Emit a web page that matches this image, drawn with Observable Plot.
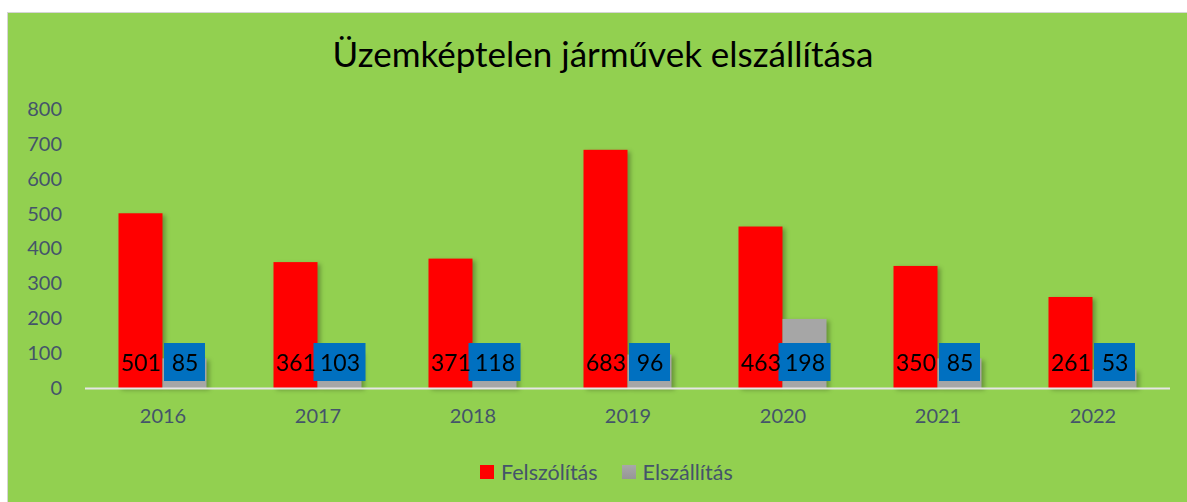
<!DOCTYPE html>
<html><head><meta charset="utf-8">
<script src="https://cdn.jsdelivr.net/npm/d3@7"></script>
<script src="https://cdn.jsdelivr.net/npm/@observablehq/plot@0.6"></script>
<style>
body{margin:0;background:#fff;width:1187px;height:502px;overflow:hidden;position:relative;font-family:Lato,sans-serif}
#panel{position:absolute;left:7px;top:12px;width:1180px;height:490px;background:#92D050;border-top:1px solid #d5d5d5;border-left:1px solid #d5d5d5;box-sizing:border-box}
#title{position:absolute;left:0;width:1206px;top:32px;text-align:center;font-size:35px;color:#000;white-space:nowrap}
#chart{position:absolute;left:0;top:0}
#legend{position:absolute;top:459px;left:480px;display:flex;align-items:center;font-size:21.5px;color:#44546A;white-space:nowrap}
.sw{display:inline-block;width:14px;height:14px;margin-right:7px}
g[aria-description="shadowbars"]{filter:drop-shadow(3px 2px 2px rgba(0,0,0,0.28))}
</style></head>
<body>
<div id="panel"></div>
<div id="title">Üzemképtelen járművek elszállítása</div>
<div id="chart"></div>
<div id="legend"><span class="sw" style="background:#FF0000"></span><span>Felszólítás</span><span class="sw" style="background:linear-gradient(#a8a8a8,#969696);margin-left:24px"></span><span>Elszállítás</span></div>
<script>
const years = ["2016","2017","2018","2019","2020","2021","2022"];
const series = ["Felszólítás","Elszállítás"];
const felszolitas = [501,361,371,683,463,350,261];
const elszallitas = [85,103,118,96,198,85,53];
const yTicks = [0,100,200,300,400,500,600,700,800];

const rows = [];
years.forEach((y,i)=>{
  rows.push({year:y, series:series[0], value:felszolitas[i]});
  rows.push({year:y, series:series[1], value:elszallitas[i]});
});
const gray = rows.filter(d=>d.series===series[1]);
const gray2 = gray.filter(d=>String(d.value).length<3);
const gray3 = gray.filter(d=>String(d.value).length>=3);
const LABEL_Y = 70, BOX_LO = 20, BOX_HI = 129;

const chart = Plot.plot({
  width:1187, height:440,
  marginTop:109, marginBottom:52, marginLeft:83.5, marginRight:16.4,
  style:{background:"transparent", fontFamily:"Lato, sans-serif", fontSize:"20px", color:"#44546A", overflow:"visible"},
  fx:{domain:years, padding:0, label:null, tickSize:0, tickPadding:20, axis:"bottom"},
  x:{domain:series, axis:null, paddingInner:0, paddingOuter:0.725},
  y:{domain:[0,800], ticks:yTicks, tickSize:0, tickPadding:23.5, label:null},
  color:{domain:series, range:["#FF0000","#A6A6A6"]},
  marks:[
    Plot.barY(rows,{fx:"year", x:"series", y:"value", fill:"series", ariaDescription:"shadowbars"}),
    Plot.ruleY([0],{stroke:"#e6e6e6", strokeWidth:2}),
    Plot.barY(gray2,{fx:"year", x:"series", y1:BOX_LO, y2:BOX_HI, fill:"#0070C0", insetLeft:1.5, insetRight:1.5}),
    Plot.barY(gray3,{fx:"year", x:"series", y1:BOX_LO, y2:BOX_HI, fill:"#0070C0", insetLeft:-4, insetRight:-4}),
    Plot.text(rows,{fx:"year", x:"series", y:LABEL_Y, text:d=>String(d.value), fill:"#000", fontSize:23})
  ]
});
document.getElementById("chart").appendChild(chart);
</script>
</body></html>
